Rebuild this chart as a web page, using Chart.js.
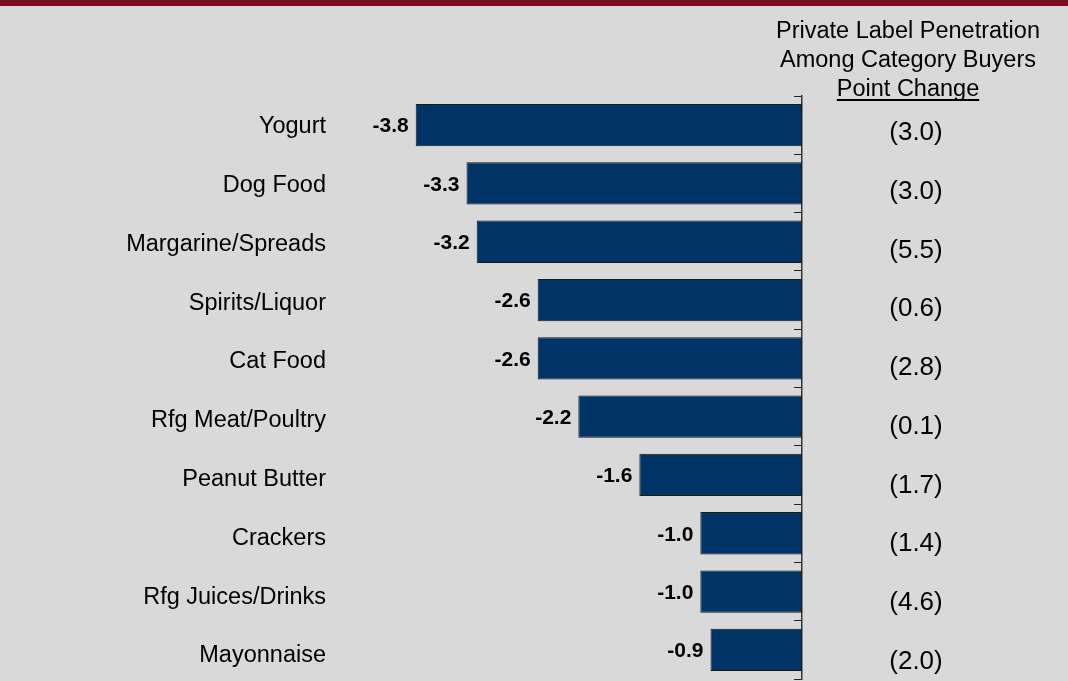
<!DOCTYPE html>
<html>
<head>
<meta charset="utf-8">
<script src="https://cdn.jsdelivr.net/npm/chart.js@4/dist/chart.umd.min.js"></script>
<style>
  html, body { margin: 0; padding: 0; background: #d9d9d9; }
  #wrap { position: relative; width: 1068px; height: 681px; }
</style>
</head>
<body>
<div id="wrap"><canvas id="plChart"></canvas></div>
<script>
// categories, top to bottom
const categories = ['Yogurt', 'Dog Food', 'Margarine/Spreads', 'Spirits/Liquor', 'Cat Food',
    'Rfg Meat/Poultry', 'Peanut Butter', 'Crackers', 'Rfg Juices/Drinks', 'Mayonnaise'];
// bar values
const shareChange = [-3.8, -3.3, -3.2, -2.6, -2.6, -2.2, -1.6, -1.0, -1.0, -0.9];
// private label penetration point change (shown in parentheses)
const penetrationChange = [-3.0, -3.0, -5.5, -0.6, -2.8, -0.1, -1.7, -1.4, -4.6, -2.0];
const headerLines = ['Private Label Penetration', 'Among Category Buyers', 'Point Change'];

const FONT = 'Arial, "Liberation Sans", Helvetica, sans-serif';

const pageBackground = {
    id: 'pageBackground',
    beforeDraw(chart) {
        const ctx = chart.ctx;
        ctx.save();
        ctx.fillStyle = '#d9d9d9';
        ctx.fillRect(0, 0, chart.width, chart.height);
        ctx.fillStyle = '#7a101f';
        ctx.fillRect(0, 0, chart.width, 6);
        ctx.restore();
    }
};

// category names, bold value at each bar end, right-hand column and its header
const barText = {
    id: 'barText',
    afterDatasetsDraw(chart) {
        const ctx = chart.ctx;
        const meta = chart.getDatasetMeta(0);
        const yScale = chart.scales.y;
        const colX = 916;
        ctx.save();
        ctx.fillStyle = '#000';
        ctx.textBaseline = 'middle';

        ctx.font = '23.5px ' + FONT;
        ctx.textAlign = 'right';
        categories.forEach((name, i) => {
            ctx.fillText(name, chart.chartArea.left - 10, yScale.getPixelForValue(i) + 1.5 + i * 0.5);
        });

        ctx.font = 'bold 21px ' + FONT;
        meta.data.forEach((bar, i) => {
            ctx.fillText(shareChange[i].toFixed(1), bar.x - 7, bar.y + 1.5);
        });

        ctx.font = '26px ' + FONT;
        ctx.textAlign = 'center';
        meta.data.forEach((bar, i) => {
            ctx.fillText('(' + Math.abs(penetrationChange[i]).toFixed(1) + ')', colX, bar.y + 8 + i * 0.4);
        });

        // header
        ctx.font = '23.5px ' + FONT;
        ctx.textBaseline = 'alphabetic';
        const base = [38, 67, 96];
        headerLines.forEach((t, i) => ctx.fillText(t, 908, base[i]));
        const w = ctx.measureText(headerLines[2]).width;
        ctx.fillRect(908 - w / 2, 99, w, 2);
        ctx.restore();
    }
};

new Chart(document.getElementById('plChart'), {
    type: 'bar',
    data: {
        labels: categories,
        datasets: [{
            data: shareChange,
            backgroundColor: '#003366',
            borderColor: '#1a1a1a',
            borderWidth: 1,
            borderSkipped: false,
            barPercentage: 0.725,
            categoryPercentage: 1
        }]
    },
    options: {
        indexAxis: 'y',
        responsive: true,
        maintainAspectRatio: false,
        animation: false,
        layout: { padding: { top: 96, bottom: 2, left: 336, right: 266 } },
        plugins: {
            legend: { display: false },
            tooltip: { enabled: false }
        },
        scales: {
            x: {
                display: false,
                min: -4.584,
                max: 0
            },
            y: {
                display: false
            },
            y2: {
                type: 'category',
                axis: 'y',
                position: { x: 0 },
                offset: true,
                grid: {
                    offset: true,
                    drawOnChartArea: false,
                    drawTicks: true,
                    tickLength: 7,
                    color: '#222',
                    lineWidth: 1
                },
                border: { display: true, color: '#333', width: 1.5 },
                ticks: { display: false }
            }
        }
    },
    plugins: [pageBackground, barText]
});
</script>
</body>
</html>
